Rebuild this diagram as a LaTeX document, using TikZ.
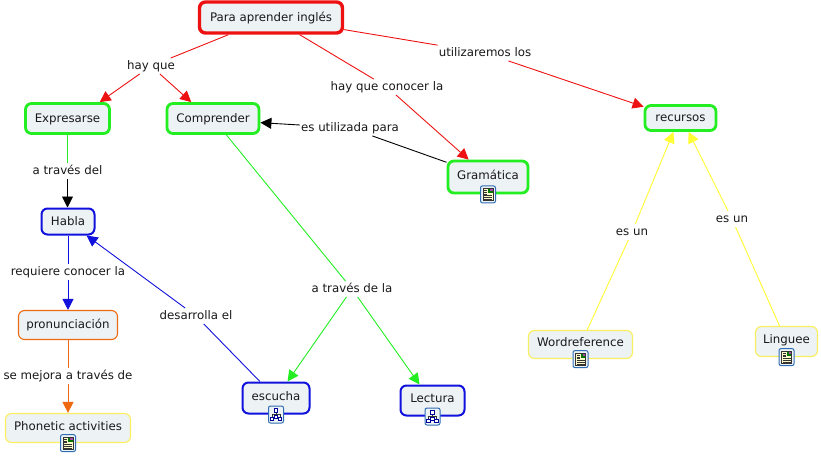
\documentclass[tikz,border=0pt]{standalone}
\usepackage{fontspec}
\setmainfont{DejaVu Sans}
\usetikzlibrary{arrows.meta}
\definecolor{boxfill}{HTML}{EDF2F5}
\definecolor{cmred}{HTML}{EE1111}
\definecolor{cmgreen}{HTML}{22EE22}
\definecolor{cmblue}{HTML}{1111DD}
\definecolor{cmorange}{HTML}{EE6A11}
\definecolor{cmyellow}{HTML}{FFFF33}
\definecolor{cmpale}{HTML}{F8F060}
\definecolor{iconblue}{HTML}{2F6DB5}
\colorlet{navy}{blue!60!black}
\tikzset{
  concept/.style={rounded corners=6pt,fill=boxfill,inner sep=0pt,text=black!90,
    font=\fontsize{11.8}{13}\selectfont,text height=9pt,text depth=1.5pt},
  withicon/.style={text depth=5pt},
  linkname/.style={fill=white,inner xsep=1pt,inner ysep=2.5pt,text=black!90,
    font=\fontsize{11.8}{13}\selectfont,text height=9pt,text depth=1.5pt},
  cline/.style={line width=.9pt},
  tipped/.style={line width=.9pt,-{Triangle[width=11pt,length=11pt]}},
  docicon/.pic={
    \draw[iconblue,fill=boxfill,rounded corners=2pt,line width=1pt] (-7.5,-8.5) rectangle (7.5,8.5);
    \draw[black!80,fill=yellow!20,line width=.6pt] (-5,-6) rectangle (5,6);
    \fill[green!45!black] (0,-5.5) rectangle (4.5,-1);
    \fill[red!50!blue!70] (2,-5.5) rectangle (4.5,-3);
    \foreach \ypos in {-4,-2.2,-.4}
      \draw[black!80,line width=.7pt] (-4,\ypos) -- (-.8,\ypos);
    \foreach \ypos in {1.4,3.2,5}
      \draw[black!80,line width=.7pt] (-4,\ypos) -- (4,\ypos);
  },
  treeicon/.pic={
    \draw[iconblue,fill=boxfill,rounded corners=2pt,line width=1pt] (-7.5,-8.5) rectangle (7.5,8.5);
    \draw[black!80,line width=.6pt] (0,-3) -- (0,3) (-4,3) -- (-4,0) -- (4,0) -- (4,3);
    \draw[navy,fill=white,line width=.8pt] (-1.7,-6) rectangle (1.7,-2.6);
    \draw[navy,fill=white,line width=.8pt] (-5.7,2.6) rectangle (-2.3,6);
    \draw[navy,fill=white,line width=.8pt] (2.3,2.6) rectangle (5.7,6);
    \draw[navy,fill=white,line width=.8pt] (-1.7,0.6) rectangle (1.7,4);
  },
}
\begin{document}
\begin{tikzpicture}[x=1pt,y=-1pt]
  \useasboundingbox (0,0) rectangle (821,455);
  \node[concept,draw=cmred,line width=3.4pt,minimum width=143pt,minimum height=31pt] (para) at (271,17.5) {Para aprender inglés};
  \node[concept,draw=cmgreen,line width=2.8pt,minimum width=84pt,minimum height=30pt] (expresarse) at (67.5,118.5) {Expresarse};
  \node[concept,draw=cmgreen,line width=2.8pt,minimum width=92pt,minimum height=30pt] (comprender) at (213,118.5) {Comprender};
  \node[concept,withicon,draw=cmgreen,line width=2.8pt,minimum width=80pt,minimum height=32pt] (gramatica) at (488,177) {Gramática};
  \node[concept,draw=cmgreen,line width=2.8pt,minimum width=71pt,minimum height=25pt] (recursos) at (680.5,118) {recursos};
  \node[concept,draw=cmblue,line width=2pt,minimum width=53pt,minimum height=26pt] (habla) at (68,221.5) {Habla};
  \node[concept,draw=cmorange,line width=1.1pt,minimum width=99pt,minimum height=29pt] (pronunciacion) at (68,325) {pronunciación};
  \node[concept,withicon,draw=cmpale,line width=1.2pt,minimum width=125pt,minimum height=29pt] (phonetic) at (68,428) {Phonetic activities};
  \node[concept,withicon,draw=cmblue,line width=2pt,minimum width=67pt,minimum height=31pt] (escucha) at (276,398) {escucha};
  \node[concept,withicon,draw=cmblue,line width=2pt,minimum width=64pt,minimum height=30pt] (lectura) at (432.5,400.5) {Lectura};
  \node[concept,withicon,draw=cmpale,line width=1.2pt,minimum width=104pt,minimum height=28pt] (wordreference) at (580.5,344.5) {Wordreference};
  \node[concept,withicon,draw=cmpale,line width=1.2pt,minimum width=62pt,minimum height=30pt] (linguee) at (786.5,341.5) {Linguee};

  \pic at (gramatica.south) {docicon};
  \pic at (phonetic.south) {docicon};
  \pic at (wordreference.south) {docicon};
  \pic at (linguee.south) {docicon};
  \pic at (escucha.south) {treeicon};
  \pic at (lectura.south) {treeicon};

  \node[linkname] (hayque) at (151,66) {hay que};
  \node[linkname] (conocer) at (387,87) {hay que conocer la};
  \node[linkname] (utilizaremos) at (485,53) {utilizaremos los};
  \node[linkname] (atravesdel) at (67.5,171) {a través del};
  \node[linkname] (utilizada) at (350,128) {es utilizada para};
  \node[linkname] (requiere) at (68,272) {requiere conocer la};
  \node[linkname] (desarrolla) at (196,316) {desarrolla el};
  \node[linkname] (atravesdela) at (352,289) {a través de la};
  \node[linkname] (mejora) at (68,376) {se mejora a través de};
  \node[linkname] (esunleft) at (632,232) {es un};
  \node[linkname] (esunright) at (732,219) {es un};

  \draw[cline,cmred] (para) -- (hayque);
  \draw[tipped,cmred] (hayque) -- (expresarse.27);
  \draw[tipped,cmred] (hayque) -- (comprender.143);
  \draw[cline,cmred] (para) -- (conocer);
  \draw[tipped,cmred] (conocer) -- (gramatica.138);
  \draw[cline,cmred] (para) -- (utilizaremos);
  \draw[tipped,cmred] (utilizaremos) -- (recursos.163);
  \draw[cline,cmgreen] (expresarse) -- (atravesdel);
  \draw[tipped,black] (atravesdel) -- (atravesdel |- habla.north);
  \draw[cline,black] (gramatica) -- (utilizada);
  \draw[tipped,black] (utilizada) -- (comprender.-5);
  \draw[cline,cmblue] (habla) -- (requiere);
  \draw[tipped,cmblue] (requiere) -- (pronunciacion);
  \draw[cline,cmorange] (pronunciacion) -- (mejora);
  \draw[tipped,cmorange] (mejora) -- (phonetic);
  \draw[cline,cmgreen] (comprender) -- (atravesdela);
  \draw[tipped,cmgreen] (atravesdela) -- (escucha.55);
  \draw[tipped,cmgreen] (atravesdela) -- (lectura.129);
  \draw[cline,cmblue] (escucha) -- (desarrolla);
  \draw[tipped,cmblue] (desarrolla) -- (habla.-37);
  \draw[cline,cmyellow] (wordreference) -- (esunleft);
  \draw[tipped,cmyellow] (esunleft) -- (recursos.243);
  \draw[cline,cmyellow] (linguee) -- (esunright);
  \draw[tipped,cmyellow] (esunright) -- (recursos.-60);
\end{tikzpicture}
\end{document}
